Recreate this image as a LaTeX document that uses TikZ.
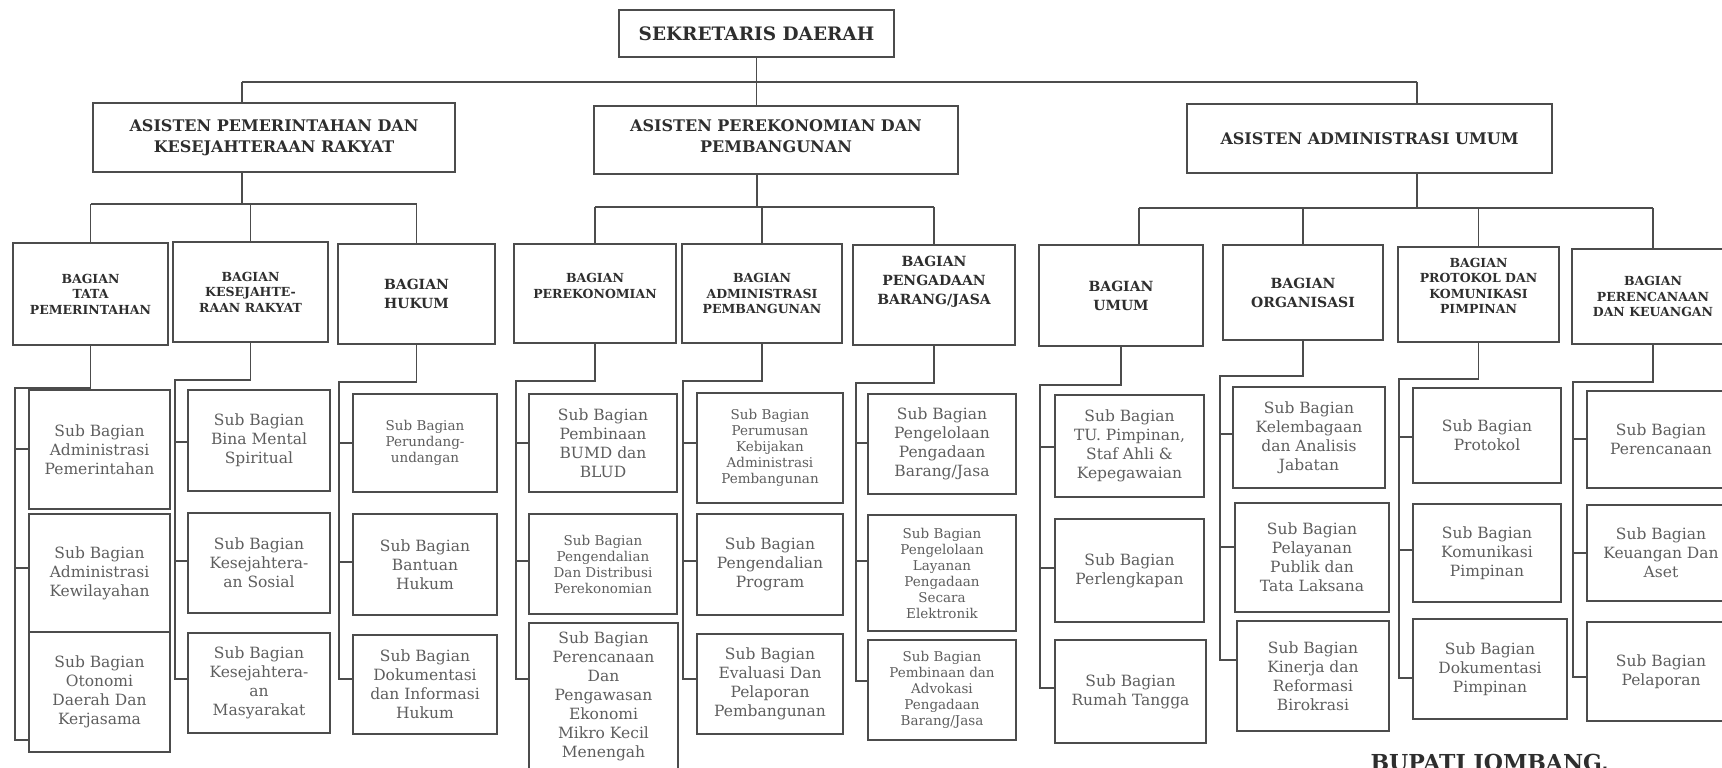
\documentclass[tikz,border=0pt]{standalone}
\usepackage{fontspec}
\setmainfont{DejaVu Serif}
\usetikzlibrary{calc}

\definecolor{ln}{HTML}{4C4C4C}
\definecolor{subtxt}{HTML}{5E5E5E}
\definecolor{bagtxt}{HTML}{2E2E2E}

\tikzset{
  box/.style={draw=ln, line width=1.6pt, inner sep=2pt, align=center},
  link/.style={draw=ln, line width=1.6pt},
  sekdabox/.style={box, font=\bfseries\fontsize{18.5}{22}\selectfont, text=bagtxt},
  asbox/.style={box, font=\bfseries\fontsize{16}{21}\selectfont, text=bagtxt},
  bagS/.style={box, font=\bfseries\fontsize{12.5}{15.5}\selectfont, text=bagtxt},
  bagL/.style={box, font=\bfseries\fontsize{14}{19}\selectfont, text=bagtxt},
  subL/.style={box, font=\fontsize{15.5}{19}\selectfont, text=subtxt},
  subS/.style={box, font=\fontsize{13.5}{16}\selectfont, text=subtxt},
}

% name, style, x1, y1, x2, y2, text
\newcommand\bx[7]{\node[#2, minimum width=#5pt-#3pt, minimum height=#6pt-#4pt] (#1) at ({(#3+#5)/2},{(#4+#6)/2}) {#7};}

% group, rail x, top y, tick1 y, tick2 y, tick3 y
\newcommand\railgroup[6]{%
  \coordinate (#1H) at (#2,#3);
  \coordinate (#1p) at (#2,#4);
  \coordinate (#1q) at (#2,#5);
  \coordinate (#1r) at (#2,#6);
  \draw[link] (#1.south) |- (#1H) -- (#1r) -- (#1r -| #1c.west);
  \draw[link] (#1p) -- (#1p -| #1a.west);
  \draw[link] (#1q) -- (#1q -| #1b.west);
}

\begin{document}
\begin{tikzpicture}[x=1pt,y=-1pt]
\fill[white] (0,0) rectangle (1722,768);
\useasboundingbox (0,0) rectangle (1722,768);

% ---- top levels
\bx{sekda}{sekdabox}{619}{10}{894}{57}{SEKRETARIS DAERAH}
\bx{A1}{asbox}{93}{103}{455}{172}{ASISTEN PEMERINTAHAN DAN\\KESEJAHTERAAN RAKYAT}
\bx{A2}{asbox,text depth=8pt}{594}{106}{958}{174}{ASISTEN PEREKONOMIAN DAN\\PEMBANGUNAN}
\bx{A3}{asbox}{1187}{104}{1552}{173}{ASISTEN ADMINISTRASI UMUM}

% ---- bagian
\bx{tata}{bagS}{13}{243}{168}{345}{BAGIAN\\TATA\\PEMERINTAHAN}
\bx{kesej}{bagS}{173}{242}{328}{342}{BAGIAN\\KESEJAHTE-\\RAAN RAKYAT}
\bx{hukum}{bagL}{338}{244}{495}{344}{BAGIAN\\HUKUM}
\bx{perek}{bagS,text depth=15pt}{514}{244}{676}{343}{BAGIAN\\PEREKONOMIAN}
\bx{adm}{bagS}{682}{244}{842}{343}{BAGIAN\\ADMINISTRASI\\PEMBANGUNAN}
\bx{peng}{bagL,text depth=29pt}{853}{245}{1015}{345}{BAGIAN\\PENGADAAN\\BARANG/JASA}
\bx{umum}{bagL}{1039}{245}{1203}{346}{BAGIAN\\UMUM}
\bx{org}{bagL}{1223}{245}{1383}{340}{BAGIAN\\ORGANISASI}
\bx{prot}{bagS,text depth=17pt}{1398}{247}{1559}{342}{BAGIAN\\PROTOKOL DAN\\KOMUNIKASI\\PIMPINAN}
\bx{peren}{bagS}{1572}{249}{1734}{344}{BAGIAN\\PERENCANAAN\\DAN KEUANGAN}

% ---- sub bagian
\bx{tataa}{subL}{29}{390}{170}{509}{Sub Bagian\\Administrasi\\Pemerintahan}
\bx{tatab}{subL}{29}{514}{170}{632}{Sub Bagian\\Administrasi\\Kewilayahan}
\bx{tatac}{subL}{29}{632}{170}{752}{Sub Bagian\\Otonomi\\Daerah Dan\\Kerjasama}

\bx{keseja}{subL}{188}{390}{330}{491}{Sub Bagian\\Bina Mental\\Spiritual}
\bx{kesejb}{subL}{188}{513}{330}{613}{Sub Bagian\\Kesejahtera-\\an Sosial}
\bx{kesejc}{subL}{188}{633}{330}{733}{Sub Bagian\\Kesejahtera-\\an\\Masyarakat}

\bx{hukuma}{subS}{353}{394}{497}{492}{Sub Bagian\\Perundang-\\undangan}
\bx{hukumb}{subL}{353}{514}{497}{615}{Sub Bagian\\Bantuan\\Hukum}
\bx{hukumc}{subL}{353}{635}{497}{734}{Sub Bagian\\Dokumentasi\\dan Informasi\\Hukum}

\bx{pereka}{subL}{529}{394}{677}{492}{Sub Bagian\\Pembinaan\\BUMD dan\\BLUD}
\bx{perekb}{subS}{529}{514}{677}{614}{Sub Bagian\\Pengendalian\\Dan Distribusi\\Perekonomian}
\bx{perekc}{subL}{529}{623}{678}{770}{Sub Bagian\\Perencanaan\\Dan\\Pengawasan\\Ekonomi\\Mikro Kecil\\Menengah}

\bx{adma}{subS}{697}{393}{843}{503}{Sub Bagian\\Perumusan\\Kebijakan\\Administrasi\\Pembangunan}
\bx{admb}{subL}{697}{514}{843}{615}{Sub Bagian\\Pengendalian\\Program}
\bx{admc}{subL}{697}{634}{843}{734}{Sub Bagian\\Evaluasi Dan\\Pelaporan\\Pembangunan}

\bx{penga}{subL}{868}{394}{1016}{494}{Sub Bagian\\Pengelolaan\\Pengadaan\\Barang/Jasa}
\bx{pengb}{subS}{868}{515}{1016}{631}{Sub Bagian\\Pengelolaan\\Layanan\\Pengadaan\\Secara\\Elektronik}
\bx{pengc}{subS}{868}{640}{1016}{740}{Sub Bagian\\Pembinaan dan\\Advokasi\\Pengadaan\\Barang/Jasa}

\bx{umuma}{subL}{1055}{395}{1204}{497}{Sub Bagian\\TU. Pimpinan,\\Staf Ahli \&\\Kepegawaian}
\bx{umumb}{subL}{1055}{519}{1204}{622}{Sub Bagian\\Perlengkapan}
\bx{umumc}{subL}{1055}{640}{1206}{743}{Sub Bagian\\Rumah Tangga}

\bx{orga}{subL}{1233}{387}{1385}{488}{Sub Bagian\\Kelembagaan\\dan Analisis\\Jabatan}
\bx{orgb}{subL}{1235}{503}{1389}{612}{Sub Bagian\\Pelayanan\\Publik dan\\Tata Laksana}
\bx{orgc}{subL}{1237}{621}{1389}{731}{Sub Bagian\\Kinerja dan\\Reformasi\\Birokrasi}

\bx{prota}{subL}{1413}{388}{1561}{483}{Sub Bagian\\Protokol}
\bx{protb}{subL}{1413}{504}{1561}{602}{Sub Bagian\\Komunikasi\\Pimpinan}
\bx{protc}{subL}{1413}{619}{1567}{719}{Sub Bagian\\Dokumentasi\\Pimpinan}

\bx{perena}{subL}{1587}{391}{1735}{488}{Sub Bagian\\Perencanaan}
\bx{perenb}{subL}{1587}{505}{1735}{601}{Sub Bagian\\Keuangan Dan\\Aset}
\bx{perenc}{subL}{1587}{622}{1735}{721}{Sub Bagian\\Pelaporan}

\node[anchor=base west, font=\bfseries\fontsize{22}{26}\selectfont, text=bagtxt] (bupati) at (1367,770) {BUPATI JOMBANG,};

% ---- connectors: top bus
\coordinate (busL) at (242,82);
\coordinate (busR) at (1417,82);
\draw[link] (busL) -- (busR);
\draw[link] (sekda.south) -- (sekda.south |- A2.north);
\draw[link] (busL) -- (busL |- A1.north);
\draw[link] (busR) -- (busR |- A3.north);

% asisten 1
\coordinate (sb1) at (242,204);
\draw[link] (sb1 |- A1.south) -- (sb1);
\draw[link] (tata.north |- sb1) -- (hukum.north |- sb1);
\foreach \n in {tata,kesej,hukum} \draw[link] (\n.north) -- (\n.north |- sb1);

% asisten 2
\coordinate (sb2) at (757,207);
\draw[link] (sb2 |- A2.south) -- (sb2);
\draw[link] (perek.north |- sb2) -- (peng.north |- sb2);
\foreach \n in {perek,adm,peng} \draw[link] (\n.north) -- (\n.north |- sb2);

% asisten 3
\coordinate (sb3) at (1417,208);
\coordinate (umumTop) at ([xshift=18pt]umum.north);
\draw[link] (sb3 |- A3.south) -- (sb3);
\draw[link] (umumTop |- sb3) -- (peren.north |- sb3);
\draw[link] (umumTop) -- (umumTop |- sb3);
\foreach \n in {org,prot,peren} \draw[link] (\n.north) -- (\n.north |- sb3);

% ---- rails to sub bagian
\railgroup{tata}{15}{388}{449}{568}{740}
\railgroup{kesej}{175}{380}{442}{561}{679}
\railgroup{hukum}{339}{382}{443}{562}{679}
\railgroup{perek}{516}{381}{443}{561}{679}
\railgroup{adm}{683}{381}{443}{561}{679}
\railgroup{peng}{856}{383}{443}{561}{681}
\railgroup{umum}{1040}{385}{447}{568}{688}
\railgroup{org}{1220}{376}{434}{547}{660}
\railgroup{prot}{1399}{379}{437}{550}{678}
\railgroup{peren}{1573}{382}{439}{553}{677}
\end{tikzpicture}
\end{document}
